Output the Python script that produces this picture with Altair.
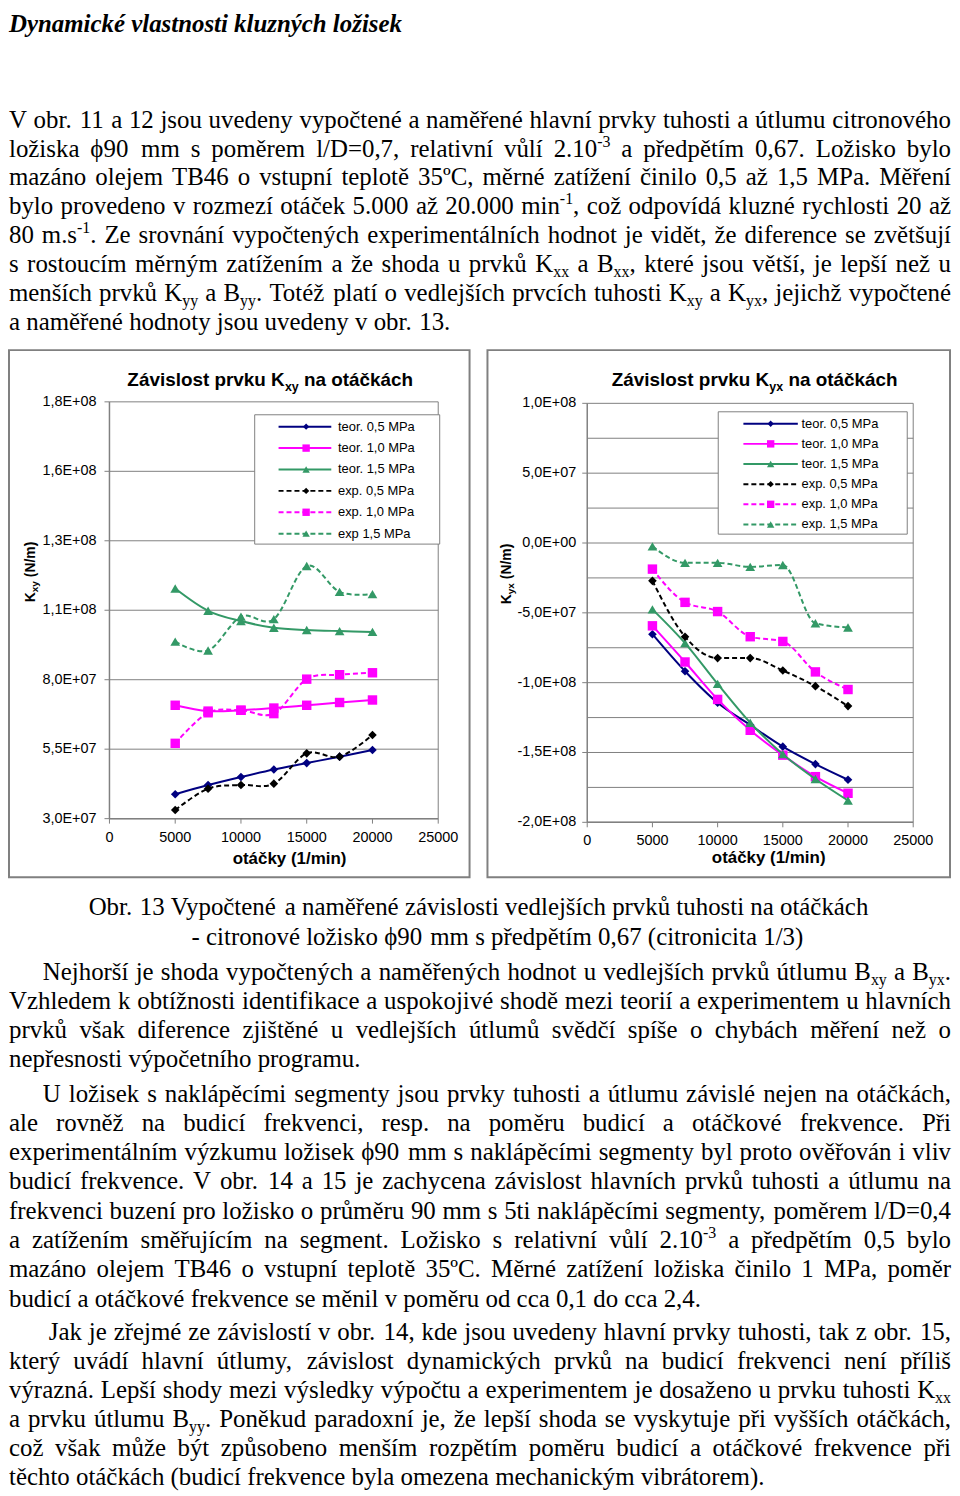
import re
import unicodedata
import altair as alt
import pandas as pd

# ------------------------------------------------------------------ data
rpm = [5000, 7500, 10000, 12500, 15000, 17500, 20000]
rpm_ticks = [0, 5000, 10000, 15000, 20000, 25000]
rpm_tick_labels = ["0", "5000", "10000", "15000", "20000", "25000"]

legend_kxy = ["teor. 0,5 MPa", "teor. 1,0 MPa", "teor. 1,5 MPa",
              "exp. 0,5 MPa", "exp. 1,0 MPa", "exp 1,5 MPa"]
legend_kyx = ["teor. 0,5 MPa", "teor. 1,0 MPa", "teor. 1,5 MPa",
              "exp. 0,5 MPa", "exp. 1,0 MPa", "exp. 1,5 MPa"]

kxy_teor_05 = [3.88e7, 4.21e7, 4.50e7, 4.77e7, 5.00e7, 5.23e7, 5.47e7]
kxy_teor_10 = [7.08e7, 6.87e7, 6.90e7, 6.98e7, 7.08e7, 7.18e7, 7.27e7]
kxy_teor_15 = [1.128e8, 1.048e8, 1.011e8, 9.87e7, 9.79e7, 9.75e7, 9.72e7]
kxy_exp_05 = [3.31e7, 4.08e7, 4.21e7, 4.26e7, 5.35e7, 5.23e7, 6.01e7]
kxy_exp_10 = [5.71e7, 6.81e7, 6.90e7, 6.78e7, 8.02e7, 8.18e7, 8.25e7]
kxy_exp_15 = [9.37e7, 9.05e7, 1.027e8, 1.018e8, 1.209e8, 1.116e8, 1.108e8]

kyx_teor_05 = [-6.53e7, -9.18e7, -1.144e8, -1.303e8, -1.458e8, -1.583e8, -1.695e8]
kyx_teor_10 = [-5.93e7, -8.52e7, -1.120e8, -1.341e8, -1.519e8, -1.673e8, -1.792e8]
kyx_teor_15 = [-4.75e7, -7.17e7, -1.009e8, -1.287e8, -1.512e8, -1.690e8, -1.844e8]
kyx_exp_05 = [-2.71e7, -6.71e7, -8.24e7, -8.24e7, -9.13e7, -1.025e8, -1.168e8]
kyx_exp_10 = [-1.87e7, -4.25e7, -4.91e7, -6.71e7, -7.05e7, -9.23e7, -1.049e8]
kyx_exp_15 = [-2.4e6, -1.42e7, -1.42e7, -1.71e7, -1.57e7, -5.75e7, -6.05e7]

kxy_domain = [30000000, 180000000]
kxy_tick_values = [30000000, 55000000, 80000000, 105000000, 130000000, 155000000, 180000000]
kxy_tick_labels = ["3,0E+07", "5,5E+07", "8,0E+07", "1,1E+08", "1,3E+08", "1,6E+08", "1,8E+08"]

kyx_domain = [-200000000, 100000000]
kyx_grid_values = [-200000000, -175000000, -150000000, -125000000, -100000000, -75000000,
                   -50000000, -25000000, 0, 25000000, 50000000, 75000000, 100000000]
kyx_tick_values = [-200000000, -150000000, -100000000, -50000000, 0, 50000000, 100000000]
kyx_tick_labels = ["-2,0E+08", "-1,5E+08", "-1,0E+08", "-5,0E+07", "0,0E+00", "5,0E+07", "1,0E+08"]

kxy_title = [("Závislost prvku K", False), ("xy", True), (" na otáčkách", False)]
kyx_title = [("Závislost prvku K", False), ("yx", True), (" na otáčkách", False)]
kxy_ytitle = [("K", False), ("xy", True), (" (N/m)", False)]
kyx_ytitle = [("K", False), ("yx", True), (" (N/m)", False)]
x_title = "otáčky  (1/min)"

header = "Dynamické vlastnosti kluzných ložisek"
para_top = [
    "V obr. 11 a 12 jsou uvedeny vypočtené a naměřené hlavní prvky tuhosti a útlumu citronového",
    "ložiska ϕ90 mm s poměrem l/D=0,7, relativní vůlí 2.10^{-3} a předpětím 0,67. Ložisko bylo",
    "mazáno olejem TB46 o vstupní teplotě 35ºC, měrné zatížení činilo 0,5 až 1,5 MPa. Měření",
    "bylo provedeno v rozmezí otáček 5.000 až 20.000 min^{-1}, což odpovídá kluzné rychlosti 20 až",
    "80 m.s^{-1}. Ze srovnání vypočtených experimentálních hodnot je vidět, že diference se zvětšují",
    "s rostoucím měrným zatížením a že shoda u prvků K_{xx} a B_{xx}, které jsou větší, je lepší než u",
    "menších prvků K_{yy} a B_{yy}. Totéž platí o vedlejších prvcích tuhosti K_{xy} a K_{yx}, jejichž vypočtené",
    "a naměřené hodnoty jsou uvedeny v obr. 13.",
]
caption = [
    "Obr. 13 Vypočtené a naměřené závislosti vedlejších prvků tuhosti na otáčkách",
    "- citronové ložisko ϕ90 mm s předpětím 0,67 (citronicita 1/3)",
]
para_b1 = [
    "Nejhorší je shoda vypočtených a naměřených hodnot u vedlejších prvků útlumu B_{xy} a B_{yx}.",
    "Vzhledem k obtížnosti identifikace a uspokojivé shodě mezi teorií a experimentem u hlavních",
    "prvků však diference zjištěné u vedlejších útlumů svědčí spíše o chybách měření než o",
    "nepřesnosti výpočetního programu.",
]
para_b2 = [
    "U ložisek s naklápěcími segmenty jsou prvky tuhosti a útlumu závislé nejen na otáčkách,",
    "ale rovněž na budicí frekvenci, resp. na poměru budicí a otáčkové frekvence. Při",
    "experimentálním výzkumu ložisek ϕ90 mm s naklápěcími segmenty byl proto ověřován i vliv",
    "budicí frekvence. V obr. 14 a 15 je zachycena závislost hlavních prvků tuhosti a útlumu na",
    "frekvenci buzení pro ložisko o průměru 90 mm s 5ti naklápěcími segmenty, poměrem l/D=0,4",
    "a zatížením směřujícím na segment. Ložisko s relativní vůlí 2.10^{-3} a předpětím 0,5 bylo",
    "mazáno olejem TB46 o vstupní teplotě 35ºC. Měrné zatížení ložiska činilo 1 MPa, poměr",
    "budicí a otáčkové frekvence se měnil v poměru od cca 0,1 do cca 2,4.",
]
para_b3 = [
    "Jak je zřejmé ze závislostí v obr. 14, kde jsou uvedeny hlavní prvky tuhosti, tak z obr. 15,",
    "který uvádí hlavní útlumy, závislost dynamických prvků na budicí frekvenci není příliš",
    "výrazná. Lepší shody mezi výsledky výpočtu a experimentem je dosaženo u prvku tuhosti K_{xx}",
    "a prvku útlumu B_{yy}. Poněkud paradoxní je, že lepší shoda se vyskytuje při vyšších otáčkách,",
    "což však může být způsobeno menším rozpětím poměru budicí a otáčkové frekvence při",
    "těchto otáčkách (budicí frekvence byla omezena mechanickým vibrátorem).",
]

# ------------------------------------------------------------------ styles
STYLES = [("#000080", "diamond", False), ("#FF00FF", "square", False), ("#339966", "triangle-up", False),
          ("#000000", "diamond", True), ("#FF00FF", "square", True), ("#339966", "triangle-up", True)]
MARK_SIZE = {"diamond": 75, "square": 90, "triangle-up": 95}
LEG_SIZE = {"diamond": 40, "square": 55, "triangle-up": 55}
GREY = "#808080"
DASH = [5, 3]

TIMES = {" ": 250, "!": 333, "(": 333, ")": 333, "+": 564, ",": 250, "-": 333, ".": 250, "/": 278,
         ":": 278, ";": 278, "=": 564, "º": 310, "ϕ": 600,
         "A": 722, "B": 667, "C": 667, "D": 722, "E": 611, "F": 556, "G": 722, "H": 722, "I": 333,
         "J": 389, "K": 722, "L": 611, "M": 889, "N": 722, "O": 722, "P": 556, "Q": 722, "R": 667,
         "S": 556, "T": 611, "U": 722, "V": 722, "W": 944, "X": 722, "Y": 722, "Z": 611,
         "a": 444, "b": 500, "c": 444, "d": 500, "e": 444, "f": 333, "g": 500, "h": 500, "i": 278,
         "j": 278, "k": 500, "l": 278, "m": 778, "n": 500, "o": 500, "p": 500, "q": 500, "r": 333,
         "s": 389, "t": 278, "u": 500, "v": 500, "w": 722, "x": 500, "y": 500, "z": 444}
for _d in "0123456789":
    TIMES[_d] = 500
ARIAL_B = {" ": 278, "(": 333, ")": 333, "/": 278, "1": 556, "K": 722, "N": 722, "Z": 611,
           "a": 556, "c": 556, "h": 611, "i": 278, "k": 556, "l": 278, "m": 889, "n": 611,
           "o": 611, "p": 611, "r": 389, "s": 556, "t": 333, "u": 611, "v": 556, "x": 556, "y": 556}


def cw(ch, table, default=500):
    if ch in table:
        return table[ch]
    base = unicodedata.normalize("NFD", ch)[0]
    return table.get(base, default)


def tw(text, size, table):
    return sum(cw(c, table) for c in text) * size / 1000.0


TOKEN = re.compile(r"_\{([^}]*)\}|\^\{([^}]*)\}|([^_^]+)")


def parse(word):
    segs = []
    for m in TOKEN.finditer(word):
        if m.group(1) is not None:
            segs.append((m.group(1), "sub"))
        elif m.group(2) is not None:
            segs.append((m.group(2), "sup"))
        else:
            segs.append((m.group(3), "n"))
    return segs


BODY, SMALL = 25, 16
SHIFT = {"n": 0, "sub": 5, "sup": -10}


def seg_size(kind):
    return BODY if kind == "n" else SMALL


def word_width(word):
    return sum(tw(t, seg_size(k), TIMES) for t, k in parse(word))


def layout_line(line, x0, y, right=None, center=None):
    words = line.split(" ")
    widths = [word_width(w) for w in words]
    gap = tw(" ", BODY, TIMES)
    if right is not None and len(words) > 1:
        gap = (right - x0 - sum(widths)) / (len(words) - 1)
    if center is not None:
        x0 = center - (sum(widths) + gap * (len(words) - 1)) / 2
    rows, x = [], x0
    for w, wd in zip(words, widths):
        cx = x
        for t, k in parse(w):
            rows.append({"t": t, "x": round(cx, 2), "y": round(y + SHIFT[k], 2), "s": seg_size(k)})
            cx += tw(t, seg_size(k), TIMES)
        x += wd + gap
    return rows


def layout_para(lines, indent, y0, dy, right):
    rows = []
    for i, line in enumerate(lines):
        last = i == len(lines) - 1
        rows += layout_line(line, indent if i == 0 else 0, y0 + i * dy, None if last else right)
    return rows


def text_panel(rows, width, height, extra=()):
    df = pd.DataFrame(rows)
    body = alt.Chart(df).mark_text(align="left", baseline="alphabetic", font="Liberation Serif",
                                   color="black").encode(
        x=alt.X("x:Q", scale=None, axis=None),
        y=alt.Y("y:Q", scale=None, axis=None),
        text="t:N",
        size=alt.Size("s:Q", scale=None, legend=None))
    return alt.layer(body, *extra).properties(width=width, height=height,
                                               view=alt.ViewBackground(strokeOpacity=0))


def text_mark(t, x, y, size, bold=False, angle=0, align="left", baseline="alphabetic",
              font="Liberation Sans"):
    kw = dict(align=align, baseline=baseline, font=font, fontSize=size, color="black")
    if bold:
        kw["fontWeight"] = "bold"
    if angle:
        kw["angle"] = angle
    return alt.Chart(pd.DataFrame({"t": [t]})).mark_text(**kw).encode(
        x=alt.value(x), y=alt.value(y), text="t:N")


def run_width(parts, size, subsize):
    return sum(tw(t, subsize if s else size, ARIAL_B) for t, s in parts)


def seg_run(parts, x0, y, size, subsize, sub_shift, vertical=False):
    layers, pos = [], 0.0
    for text, is_sub in parts:
        s = subsize if is_sub else size
        lead = len(text) - len(text.lstrip(" "))
        pos += tw(" " * lead, s, ARIAL_B)
        body = text.strip(" ")
        if vertical:
            layers.append(text_mark(body, x0 + (sub_shift if is_sub else 0), y - pos, s, bold=True,
                                    angle=270, baseline="middle"))
        else:
            layers.append(text_mark(body, x0 + pos, y + (sub_shift if is_sub else 0), s, bold=True))
        pos += tw(body, s, ARIAL_B)
    return layers


def build_chart(series, names, ydom, grid_vals, tick_vals, tick_labels, title_parts, ytitle_parts, g):
    W, H = g["W"], g["H"]
    xr, yr = g["xr"], g["yr"]
    xdom = [rpm_ticks[0], rpm_ticks[-1]]
    xscale = alt.Scale(domain=xdom, range=xr, nice=False, zero=False)
    yscale = alt.Scale(domain=ydom, range=yr, nice=False, zero=False)

    def X(f):
        return alt.X(f, scale=xscale, axis=None)

    def Y(f):
        return alt.Y(f, scale=yscale, axis=None)

    layers = []
    # gridlines (horizontal)
    gdf = pd.DataFrame({"v": grid_vals, "xa": xdom[0], "xb": xdom[1]})
    layers.append(alt.Chart(gdf).mark_rule(color=GREY, strokeWidth=1).encode(
        x=X("xa:Q"), x2="xb:Q", y=Y("v:Q")))
    # plot-area right border
    bdf = pd.DataFrame({"xa": [xdom[0]], "xb": [xdom[1]], "ya": [ydom[0]], "yb": [ydom[1]]})
    layers.append(alt.Chart(bdf).mark_rule(color=GREY, strokeWidth=1).encode(
        x=X("xb:Q"), y=Y("ya:Q"), y2="yb:Q"))
    # axis lines
    layers.append(alt.Chart(bdf).mark_rule(color=GREY, strokeWidth=1.5).encode(
        x=X("xa:Q"), y=Y("ya:Q"), y2="yb:Q"))
    layers.append(alt.Chart(bdf).mark_rule(color=GREY, strokeWidth=1.5).encode(
        x=X("xa:Q"), x2="xb:Q", y=Y("ya:Q")))
    # y ticks and labels
    ydf = pd.DataFrame({"v": tick_vals, "lab": tick_labels, "xa": xdom[0]})
    layers.append(alt.Chart(ydf).mark_rule(color=GREY, strokeWidth=1).encode(
        x=X("xa:Q"), x2=alt.value(xr[0] - 5), y=Y("v:Q")))
    layers.append(alt.Chart(ydf).mark_text(align="right", baseline="middle", dx=-(5 + g["ylabpad"]),
                                           font="Liberation Sans", fontSize=14.5, color="black").encode(
        x=X("xa:Q"), y=Y("v:Q"), text="lab:N"))
    # x ticks and labels
    xdf = pd.DataFrame({"t": rpm_ticks, "lab": rpm_tick_labels, "ya": ydom[0]})
    layers.append(alt.Chart(xdf).mark_rule(color=GREY, strokeWidth=1).encode(
        x=X("t:Q"), y=Y("ya:Q"), y2=alt.value(yr[0] + 5)))
    layers.append(alt.Chart(xdf).mark_text(align="center", baseline="top", dy=12,
                                           font="Liberation Sans", fontSize=14.5, color="black").encode(
        x=X("t:Q"), y=Y("ya:Q"), text="lab:N"))
    # data series
    for vals, (col, shp, dashed) in zip(series, STYLES):
        df = pd.DataFrame({"rpm": rpm, "k": vals})
        line_kw = dict(color=col, strokeWidth=2, interpolate=g["interp"])
        if dashed:
            line_kw["strokeDash"] = DASH
        layers.append(alt.Chart(df).mark_line(**line_kw).encode(x=X("rpm:Q"), y=Y("k:Q")))
        layers.append(alt.Chart(df).mark_point(shape=shp, filled=True, color=col, opacity=1,
                                               size=MARK_SIZE[shp]).encode(x=X("rpm:Q"), y=Y("k:Q")))
    # legend
    b = g["box"]
    layers.append(alt.Chart(pd.DataFrame({"a": [0]})).mark_rect(
        fill="white", stroke=GREY, strokeWidth=1).encode(
        x=alt.value(b[0]), x2=alt.value(b[1]), y=alt.value(b[2]), y2=alt.value(b[3])))
    for i, (col, shp, dashed) in enumerate(STYLES):
        ry = g["leg_y0"] + i * g["leg_dy"]
        ldf = pd.DataFrame({"name": [names[i]]})
        rk = dict(color=col, strokeWidth=2)
        if dashed:
            rk["strokeDash"] = DASH
        layers.append(alt.Chart(ldf).mark_rule(**rk).encode(
            x=alt.value(g["leg_line"][0]), x2=alt.value(g["leg_line"][1]), y=alt.value(ry)))
        layers.append(alt.Chart(ldf).mark_point(shape=shp, filled=True, color=col, opacity=1,
                                                size=LEG_SIZE[shp]).encode(
            x=alt.value(g["leg_mark"]), y=alt.value(ry)))
        layers.append(alt.Chart(ldf).mark_text(align="left", baseline="middle", font="Liberation Sans",
                                               fontSize=13, color="black").encode(
            x=alt.value(g["leg_text"]), y=alt.value(ry), text="name:N"))
    # titles
    layers += seg_run(title_parts, g["title_x"], g["title_y"], 19, 12.5, 5)
    yt_total = run_width(ytitle_parts, 14, 10)
    layers += seg_run(ytitle_parts, g["ytitle"][0], g["ytitle"][1] + yt_total / 2, 14, 10, 4,
                      vertical=True)
    layers.append(text_mark(x_title, g["xtitle"][0], g["xtitle"][1], 17, bold=True, align="center"))
    return alt.layer(*layers).properties(
        width=W, height=H, view=alt.ViewBackground(stroke=GREY, strokeWidth=2, strokeOpacity=1))


LEFT = dict(W=463, H=530, xr=[101, 431.5], yr=[471, 52], interp="cardinal", ylabpad=8,
            title_x=119, title_y=36, ytitle=(22, 223), xtitle=(282, 517),
            box=[247, 433, 65, 195], leg_y0=77, leg_dy=21.5, leg_line=[271, 324],
            leg_mark=298.7, leg_text=330.7)
RIGHT = dict(W=465, H=530, xr=[100.3, 428], yr=[474.7, 53.5], interp="monotone", ylabpad=6,
             title_x=125, title_y=36, ytitle=(20, 225), xtitle=(282.7, 516),
             box=[232, 422, 62, 185], leg_y0=74, leg_dy=20.25, leg_line=[257.3, 312],
             leg_mark=284.7, leg_text=315.7)

left = build_chart([kxy_teor_05, kxy_teor_10, kxy_teor_15, kxy_exp_05, kxy_exp_10, kxy_exp_15],
                   legend_kxy, kxy_domain, kxy_tick_values, kxy_tick_values, kxy_tick_labels,
                   kxy_title, kxy_ytitle, LEFT)
right = build_chart([kyx_teor_05, kyx_teor_10, kyx_teor_15, kyx_exp_05, kyx_exp_10, kyx_exp_15],
                    legend_kyx, kyx_domain, kyx_grid_values, kyx_tick_values, kyx_tick_labels,
                    kyx_title, kyx_ytitle, RIGHT)

RIGHT_EDGE = 947
top_rows = layout_para(para_top, 0, 116.5, 29.0, RIGHT_EDGE)
head = alt.Chart(pd.DataFrame({"t": [header]})).mark_text(
    align="left", baseline="alphabetic", font="Liberation Serif", fontSize=25,
    fontWeight="bold", fontStyle="italic", color="black").encode(
    x=alt.value(0), y=alt.value(20), text="t:N")
top_panel = text_panel(top_rows, 947, 339, extra=[head])

bot_rows = []
bot_rows += layout_line(caption[0], 0, 36.5, center=472)
bot_rows += layout_line(caption[1], 0, 67.5, center=491)
bot_rows += layout_para(para_b1, 34, 102.5, 29.0, RIGHT_EDGE)
bot_rows += layout_para(para_b2, 34, 224.5, 29.43, RIGHT_EDGE)
bot_rows += layout_para(para_b3, 40, 464.5, 29.0, RIGHT_EDGE)
bottom_panel = text_panel(bot_rows, 947, 608)

chart = alt.vconcat(
    top_panel,
    alt.hconcat(left, right, spacing=16),
    bottom_panel,
    spacing=0,
).properties(padding=0)

chart.save("out.html", embed_options={"renderer": "svg", "actions": False})
